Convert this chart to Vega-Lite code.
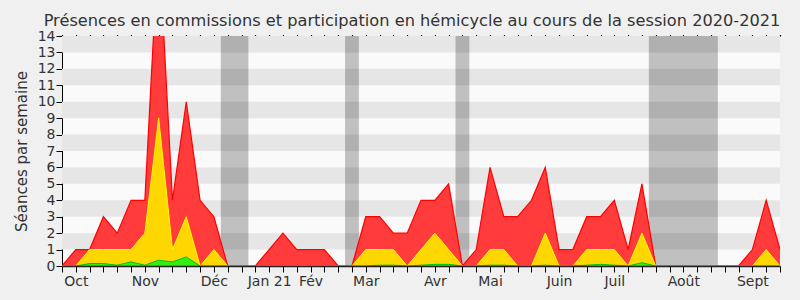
{
  "$schema": "https://vega.github.io/schema/vega-lite/v6.json",
  "autosize": "none",
  "width": 718,
  "height": 230,
  "padding": {"left": 62, "top": 36, "right": 20, "bottom": 34},
  "background": "#f0f0f0",
  "view": {"fill": "#fafafa", "stroke": null},
  "config": {"font": "DejaVu Sans"},
  "title": {
    "text": "Présences en commissions et participation en hémicycle au cours de la session 2020-2021",
    "font": "DejaVu Sans",
    "fontSize": 16.2,
    "fontWeight": "normal",
    "color": "#333333",
    "dx": -9,
    "dy": 2,
    "offset": 2
  },
  "datasets": {
    "bands": [
      {"y0": 1, "y1": 2}, {"y0": 3, "y1": 4}, {"y0": 5, "y1": 6}, {"y0": 7, "y1": 8},
      {"y0": 9, "y1": 10}, {"y0": 11, "y1": 12}, {"y0": 13, "y1": 14}
    ],
    "vacances": [
      {"debut": 11.5, "fin": 13.5},
      {"debut": 20.5, "fin": 21.5},
      {"debut": 28.5, "fin": 29.5},
      {"debut": 42.5, "fin": 47.5}
    ],
    "semaines": [
      {"i": 0, "total": 0, "hemicycle": 0, "commission": 0},
      {"i": 1, "total": 1, "hemicycle": 0, "commission": 0},
      {"i": 2, "total": 1, "hemicycle": 1, "commission": 0.15},
      {"i": 3, "total": 3, "hemicycle": 1, "commission": 0.15},
      {"i": 4, "total": 2, "hemicycle": 1, "commission": 0.05},
      {"i": 5, "total": 4, "hemicycle": 1, "commission": 0.25},
      {"i": 6, "total": 4, "hemicycle": 2, "commission": 0.05},
      {"i": 7, "total": 20, "hemicycle": 9, "commission": 0.35},
      {"i": 8, "total": 4, "hemicycle": 1, "commission": 0.25},
      {"i": 9, "total": 10, "hemicycle": 3, "commission": 0.55},
      {"i": 10, "total": 4, "hemicycle": 0, "commission": 0},
      {"i": 11, "total": 3, "hemicycle": 1, "commission": 0},
      {"i": 12, "total": 0, "hemicycle": 0, "commission": 0},
      {"i": 13, "total": 0, "hemicycle": 0, "commission": 0},
      {"i": 14, "total": 0, "hemicycle": 0, "commission": 0},
      {"i": 15, "total": 1, "hemicycle": 0, "commission": 0},
      {"i": 16, "total": 2, "hemicycle": 0, "commission": 0},
      {"i": 17, "total": 1, "hemicycle": 0, "commission": 0},
      {"i": 18, "total": 1, "hemicycle": 0, "commission": 0},
      {"i": 19, "total": 1, "hemicycle": 0, "commission": 0},
      {"i": 20, "total": 0, "hemicycle": 0, "commission": 0},
      {"i": 21, "total": 0, "hemicycle": 0, "commission": 0},
      {"i": 22, "total": 3, "hemicycle": 1, "commission": 0},
      {"i": 23, "total": 3, "hemicycle": 1, "commission": 0.05},
      {"i": 24, "total": 2, "hemicycle": 1, "commission": 0.05},
      {"i": 25, "total": 2, "hemicycle": 0, "commission": 0},
      {"i": 26, "total": 4, "hemicycle": 1, "commission": 0.05},
      {"i": 27, "total": 4, "hemicycle": 2, "commission": 0.1},
      {"i": 28, "total": 5, "hemicycle": 1, "commission": 0.1},
      {"i": 29, "total": 0, "hemicycle": 0, "commission": 0},
      {"i": 30, "total": 1, "hemicycle": 0, "commission": 0},
      {"i": 31, "total": 6, "hemicycle": 1, "commission": 0.05},
      {"i": 32, "total": 3, "hemicycle": 1, "commission": 0.05},
      {"i": 33, "total": 3, "hemicycle": 0, "commission": 0},
      {"i": 34, "total": 4, "hemicycle": 0, "commission": 0},
      {"i": 35, "total": 6, "hemicycle": 2, "commission": 0.05},
      {"i": 36, "total": 1, "hemicycle": 0, "commission": 0},
      {"i": 37, "total": 1, "hemicycle": 0, "commission": 0},
      {"i": 38, "total": 3, "hemicycle": 1, "commission": 0.05},
      {"i": 39, "total": 3, "hemicycle": 1, "commission": 0.1},
      {"i": 40, "total": 4, "hemicycle": 1, "commission": 0.05},
      {"i": 41, "total": 1, "hemicycle": 0, "commission": 0},
      {"i": 42, "total": 5, "hemicycle": 2, "commission": 0.2},
      {"i": 43, "total": 0, "hemicycle": 0, "commission": 0},
      {"i": 44, "total": 0, "hemicycle": 0, "commission": 0},
      {"i": 45, "total": 0, "hemicycle": 0, "commission": 0},
      {"i": 46, "total": 0, "hemicycle": 0, "commission": 0},
      {"i": 47, "total": 0, "hemicycle": 0, "commission": 0},
      {"i": 48, "total": 0, "hemicycle": 0, "commission": 0},
      {"i": 49, "total": 0, "hemicycle": 0, "commission": 0},
      {"i": 50, "total": 1, "hemicycle": 0, "commission": 0},
      {"i": 51, "total": 4, "hemicycle": 1, "commission": 0},
      {"i": 52, "total": 1, "hemicycle": 0, "commission": 0}
    ]
  },
  "resolve": {"axis": {"x": "independent", "y": "independent"}},
  "layer": [
    {
      "data": {"name": "bands"},
      "mark": {"type": "rect", "color": "#e6e6e6"},
      "encoding": {
        "y": {"field": "y0", "type": "quantitative", "scale": {"domain": [0, 14], "nice": false},
          "axis": {
            "values": [0,1,2,3,4,5,6,7,8,9,10,11,12,13,14],
            "labelOverlap": false,
            "title": "Séances par semaine",
            "titleFont": "DejaVu Sans",
            "titleFontSize": 15,
            "titleFontWeight": "normal",
            "titleColor": "#333333",
            "titlePadding": 8,
            "labelFont": "DejaVu Sans",
            "labelFontSize": 14,
            "labelColor": "#333333",
            "labelPadding": 1,
            "tickSize": 6,
            "tickColor": "#000000",
            "domainColor": "#000000",
            "grid": false
          }},
        "y2": {"field": "y1"}
      }
    },
    {
      "data": {"name": "vacances"},
      "mark": {"type": "rect", "color": "#000000", "opacity": 0.23},
      "encoding": {
        "x": {"field": "debut", "type": "quantitative",
          "scale": {"domain": [0, 52], "nice": false, "zero": false},
          "axis": {"orient": "top", "values": [0,1,2,3,4,5,6,7,8,9,10,11,12,13,14,15,16,17,18,19,20,21,22,23,24,25,26,27,28,29,30,31,32,33,34,35,36,37,38,39,40,41,42,43,44,45,46,47,48,49,50,51,52],
            "labels": false, "domain": false, "ticks": true, "tickSize": 1.5, "tickColor": "#000000", "tickWidth": 1.2, "grid": false, "title": null}},
        "x2": {"field": "fin"}
      }
    },
    {
      "data": {"name": "semaines"},
      "mark": {"type": "area", "color": "#ff3b3b", "opacity": 1, "line": {"color": "#ff0000", "strokeWidth": 1.2}, "clip": true, "interpolate": "linear"},
      "encoding": {
        "x": {"field": "i", "type": "quantitative",
          "axis": {
            "orient": "bottom",
            "values": [0,1,2,3,4,5,6,7,8,9,10,11,12,13,14,15,16,17,18,19,20,21,22,23,24,25,26,27,28,29,30,31,32,33,34,35,36,37,38,39,40,41,42,43,44,45,46,47,48,49,50,51,52],
            "labelExpr": "datum.value == 1 ? 'Oct' : datum.value == 6 ? 'Nov' : datum.value == 11 ? 'Déc' : datum.value == 15 ? 'Jan 21' : datum.value == 18 ? 'Fév' : datum.value == 22 ? 'Mar' : datum.value == 27 ? 'Avr' : datum.value == 31 ? 'Mai' : datum.value == 36 ? 'Juin' : datum.value == 40 ? 'Juil' : datum.value == 45 ? 'Août' : datum.value == 50 ? 'Sept' : ''",
            "labelOverlap": false,
            "labelFont": "DejaVu Sans",
            "labelFontSize": 14,
            "labelColor": "#333333",
            "labelPadding": 2,
            "tickSize": 6,
            "tickColor": "#000000",
            "domainColor": "#222222",
            "domainWidth": 1.5,
            "grid": false,
            "title": null,
            "zindex": 1
          }},
        "y": {"field": "total", "type": "quantitative", "stack": null, "axis": null}
      }
    },
    {
      "data": {"name": "semaines"},
      "mark": {"type": "area", "color": "#ffd700", "opacity": 1, "line": {"color": "#ffff00", "strokeWidth": 1}, "interpolate": "linear"},
      "encoding": {
        "x": {"field": "i", "type": "quantitative", "axis": null},
        "y": {"field": "hemicycle", "type": "quantitative", "stack": null, "axis": null}
      }
    },
    {
      "data": {"name": "semaines"},
      "mark": {"type": "area", "color": "#33ee11", "opacity": 1, "line": {"color": "#00bb00", "strokeWidth": 1}, "interpolate": "linear"},
      "encoding": {
        "x": {"field": "i", "type": "quantitative", "axis": null},
        "y": {"field": "commission", "type": "quantitative", "stack": null, "axis": null}
      }
    }
  ]
}
